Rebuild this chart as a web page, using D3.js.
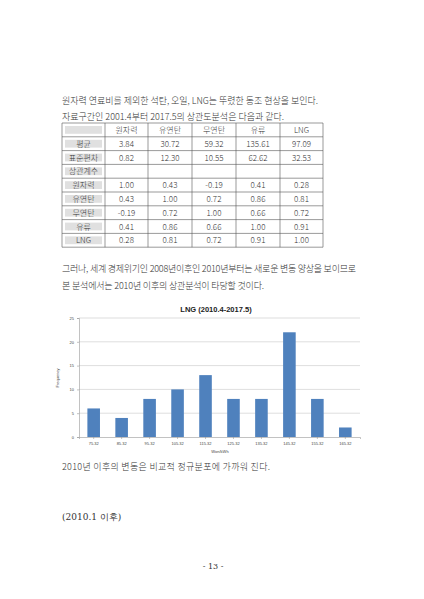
<!DOCTYPE html>
<html><head><meta charset="utf-8">
<script src="https://cdn.jsdelivr.net/npm/d3@7"></script>
<style>body{margin:0;background:#fff}</style>
</head><body>
<div id="page"></div>
<script>
// table data
var colHeads = ['원자력','유연탄','무연탄','유류','LNG'];
var rowHeads = ['평균','표준편차','상관계수','원자력','유연탄','무연탄','유류','LNG'];
var rowValues = [
  ['3.84','30.72','59.32','135.61','97.09'],
  ['0.82','12.30','10.55','62.62','32.53'],
  ['','','','',''],
  ['1.00','0.43','-0.19','0.41','0.28'],
  ['0.43','1.00','0.72','0.86','0.81'],
  ['-0.19','0.72','1.00','0.66','0.72'],
  ['0.41','0.86','0.66','1.00','0.91'],
  ['0.28','0.81','0.72','0.91','1.00']
];
// histogram data
var bins = ['75.32','85.32','95.32','105.32','115.32','125.32','135.32','145.32','155.32','165.32'];
var freq = [6,4,8,10,13,8,8,22,8,2];
var yTicks = [0,5,10,15,20,25];

var W = 424, H = 599;
var svg = d3.select("#page").append("svg").attr("width", W).attr("height", H);
var kfont = "'Noto Sans CJK KR', sans-serif";
var sfont = "'DejaVu Serif', serif";

function line(txt, x, y, len){
  svg.append("text").attr("x", x).attr("y", y).attr("font-family", kfont)
     .attr("font-size", 9).attr("font-weight", 300).attr("fill", "#333")
     .attr("textLength", len).attr("lengthAdjust", "spacing").text(txt);
}
line("원자력 연료비를 제외한 석탄, 오일, LNG는 뚜렸한 동조 현상을 보인다.", 62, 104, 256);
line("자료구간인 2001.4부터 2017.5의 상관도분석은 다음과 같다.", 62, 120, 222);

// table
var colX = [62,105,148,192,236,280,323];
var rowY = d3.range(10).map(function(i){ return 123 + i * 13.8; });
var tbl = svg.append("g");
rowY.forEach(function(y){
  tbl.append("line").attr("x1", colX[0]).attr("x2", colX[6]).attr("y1", y).attr("y2", y).attr("stroke", "#555").attr("stroke-width", 0.6);
});
colX.forEach(function(x){
  tbl.append("line").attr("x1", x).attr("x2", x).attr("y1", rowY[0]).attr("y2", rowY[9]).attr("stroke", "#555").attr("stroke-width", 0.6);
});
function cell(txt, c, r, gray){
  var cx = (colX[c] + colX[c+1]) / 2, cy = (rowY[r] + rowY[r+1]) / 2;
  if (gray) tbl.append("rect").attr("x", colX[c] + 3).attr("y", rowY[r] + 3).attr("width", colX[c+1] - colX[c] - 6)
     .attr("height", rowY[r+1] - rowY[r] - 6).attr("fill", "#e0e0e0");
  tbl.append("text").attr("x", cx).attr("y", cy + 3).attr("text-anchor", "middle")
     .attr("font-family", kfont).attr("font-size", 8).attr("font-weight", 300).attr("fill", "#333").text(txt);
}
cell('', 0, 0, true);
colHeads.forEach(function(h, i){ cell(h, i + 1, 0, false); });
rowHeads.forEach(function(h, r){
  cell(h, 0, r + 1, true);
  rowValues[r].forEach(function(v, c){ cell(v, c + 1, r + 1, false); });
});

line("그러나, 세계 경제위기인 2008년이후인 2010년부터는 새로운 변동 양상을 보이므로", 62, 272, 294);
line("본 분석에서는 2010년 이후의 상관분석이 타당할 것이다.", 62, 289, 202);

// chart
var m = {l: 79, r: 360, t: 318, b: 437};
var x = d3.scaleBand().domain(bins).range([m.l, m.r]).paddingInner(0.55).paddingOuter(0.3);
var y = d3.scaleLinear().domain([0, 25]).range([m.b, m.t]);
var ch = svg.append("g");
ch.append("text").attr("x", 216).attr("y", 312).attr("text-anchor", "middle")
  .attr("font-family", "'Liberation Sans', sans-serif").attr("font-weight", "bold").attr("font-size", 7.5).attr("fill", "#222")
  .text("LNG (2010.4-2017.5)");
ch.selectAll(".grid").data(yTicks.slice(1)).enter().append("line")
  .attr("x1", m.l).attr("x2", m.r).attr("y1", function(d){ return y(d); }).attr("y2", function(d){ return y(d); })
  .attr("stroke", "#c8c8c8").attr("stroke-width", 0.6);
ch.selectAll(".bar").data(freq).enter().append("rect")
  .attr("x", function(d, i){ return x(bins[i]); }).attr("width", x.bandwidth())
  .attr("y", function(d){ return y(d); }).attr("height", function(d){ return y(0) - y(d); })
  .attr("fill", "#4f81bd");
var ya = ch.append("g").attr("transform", "translate(" + m.l + ",0)")
  .call(d3.axisLeft(y).tickValues(yTicks).tickSize(2));
var xa = ch.append("g").attr("transform", "translate(0," + m.b + ")")
  .call(d3.axisBottom(x).tickSize(2));
[ya, xa].forEach(function(a){
  a.selectAll("path,line").attr("stroke", "#999").attr("stroke-width", 0.6);
  a.selectAll("text").attr("font-size", 4).attr("fill", "#444").attr("font-family", "'Liberation Sans', sans-serif");
});
ch.append("text").attr("x", 220).attr("y", 453).attr("text-anchor", "middle").attr("font-size", 4)
  .attr("font-family", "'Liberation Sans', sans-serif").attr("fill", "#444").text("Won/kWh");
ch.append("text").attr("transform", "translate(59,378) rotate(-90)").attr("text-anchor", "middle").attr("font-size", 4)
  .attr("font-family", "'Liberation Sans', sans-serif").attr("fill", "#444").text("Frequency");

line("2010년 이후의 변동은 비교적 정규분포에 가까워 진다.", 62, 470, 208);
svg.append("text").attr("x", 62).attr("y", 520).attr("font-family", sfont).attr("font-size", 9).attr("fill", "#333").text("(2010.1 이후)");
svg.append("text").attr("x", 213).attr("y", 569).attr("text-anchor", "middle").attr("font-family", sfont).attr("font-size", 8).attr("fill", "#333").text("- 13 -");
</script>
</body></html>
